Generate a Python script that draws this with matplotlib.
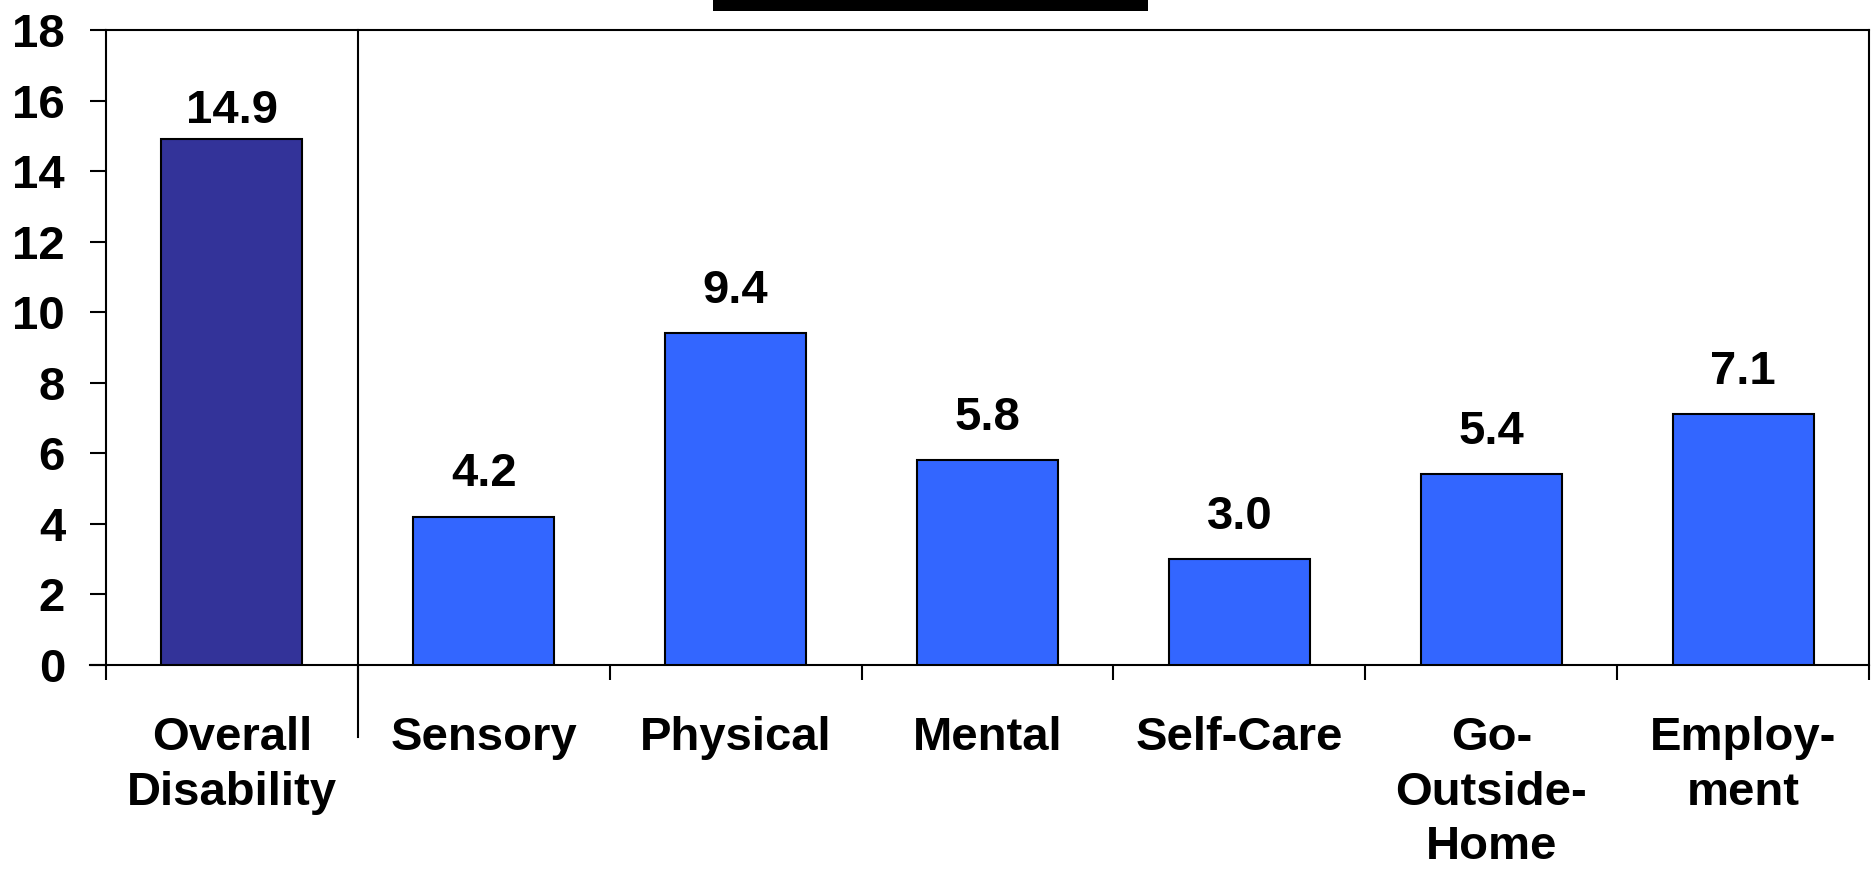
import matplotlib
matplotlib.use("Agg")
import matplotlib.pyplot as plt
from matplotlib.patches import Rectangle
import numpy as np

plt.rcParams['font.family'] = ['Liberation Sans', 'DejaVu Sans']
plt.rcParams['font.weight'] = 'bold'

categories = ["Overall\nDisability", "Sensory", "Physical", "Mental",
              "Self-Care", "Go-\nOutside-\nHome", "Employ-\nment"]
values = [14.9, 4.2, 9.4, 5.8, 3.0, 5.4, 7.1]
bar_colors = ["#333399"] + ["#3366FF"] * 6
y_ticks = [0, 2, 4, 6, 8, 10, 12, 14, 16, 18]

fig = plt.figure(figsize=(18.73, 8.69), dpi=100)
ax = fig.add_axes([0.0566, 0.2348, 0.9413, 0.7307])

x = np.arange(len(categories))
ax.bar(x, values, width=0.56, color=bar_colors, edgecolor="black", linewidth=1.5, zorder=3)

for xi, v in zip(x, values):
    # the tallest label sits closer to its bar, as in the original
    off = 12 if v > 14 else 22
    ax.annotate("%.1f" % v, (xi, v), xytext=(0, off), textcoords="offset points",
                ha="center", va="baseline", fontsize=34, fontweight="bold")

ax.set_xlim(-0.5, len(categories) - 0.5)
ax.set_ylim(0, 18)
ax.set_yticks(y_ticks)
ax.set_yticklabels([str(t) for t in y_ticks])

# boundaries carry the tick marks, centers carry the labels
ax.set_xticks(np.arange(-0.5, len(categories)), minor=False)
ax.set_xticklabels([])
ax.set_xticks(x, minor=True)
ax.set_xticklabels(categories, minor=True, linespacing=1.31)

ax.tick_params(axis="y", which="major", direction="out", length=11.5, width=1.5,
               labelsize=34, pad=18)
ax.tick_params(axis="x", which="major", direction="out", length=11, width=1.5)
ax.tick_params(axis="x", which="minor", length=0, labelsize=34, pad=37)

for s in ax.spines.values():
    s.set_linewidth(1.5)

# separator between overall and the individual types
ax.axvline(0.5, ymin=-0.114, ymax=1, color="black", linewidth=1.5, clip_on=False, zorder=4)
# x axis line continues under the y tick marks
ax.plot([-0.5 - 0.0635, -0.5], [0, 0], color="black", linewidth=1.5, clip_on=False)

# black title bar at the top
fig.patches.append(Rectangle((0.3807, 0.9873), 0.2322, 0.0127, transform=fig.transFigure,
                             facecolor="black", edgecolor="none"))

fig.savefig("out.png", dpi=100)
